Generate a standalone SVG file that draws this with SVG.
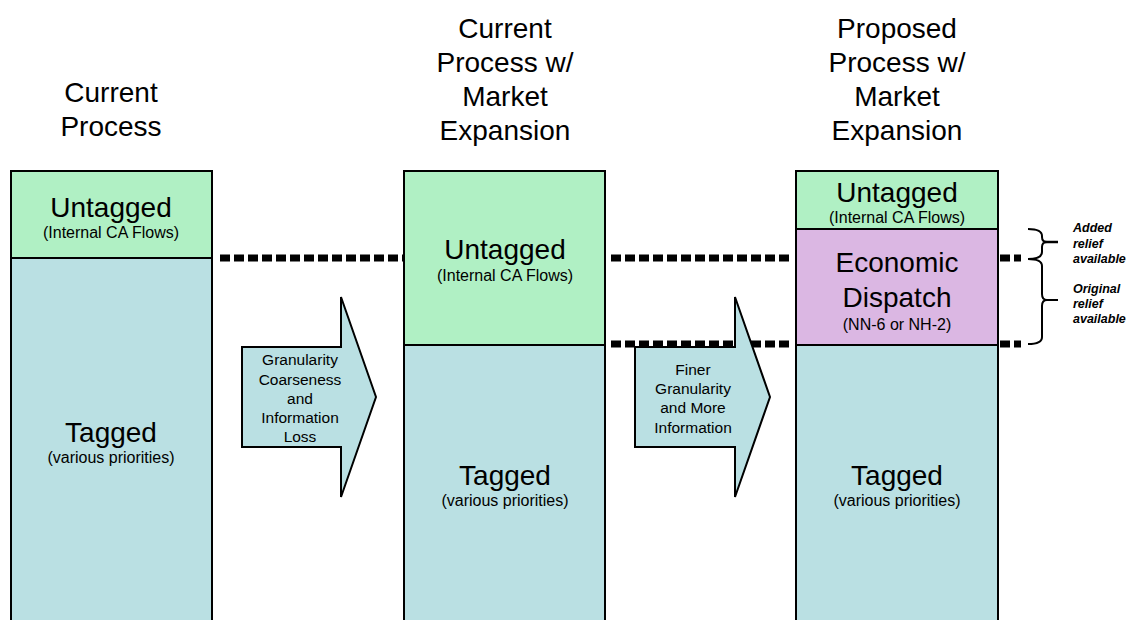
<svg xmlns="http://www.w3.org/2000/svg" width="1130" height="620" viewBox="0 0 1130 620">
<style>
  .t{font-family:"Liberation Sans",Arial,sans-serif;fill:#000;text-anchor:middle}
  .title{font-size:28px}
  .big{font-size:28px}
  .small{font-size:16px}
  .arr{font-size:15.5px}
  .note{font-family:"Liberation Sans",Arial,sans-serif;font-size:12.5px;font-weight:bold;font-style:italic;fill:#000}
  .box{stroke:#000;stroke-width:2}
  .green{fill:#B0F0C4}
  .teal{fill:#BAE0E3}
  .purple{fill:#DBB7E3}
  .dash{stroke:#000;stroke-width:7;stroke-dasharray:10 4;fill:none}
  .brace{stroke:#000;stroke-width:2;fill:none}
</style>

<g id="titles">
  <text class="t title" x="111" y="102">Current</text>
  <text class="t title" x="111" y="136">Process</text>
  <text class="t title" x="505" y="38">Current</text>
  <text class="t title" x="505" y="72">Process w/</text>
  <text class="t title" x="505" y="106">Market</text>
  <text class="t title" x="505" y="140">Expansion</text>
  <text class="t title" x="897" y="38">Proposed</text>
  <text class="t title" x="897" y="72">Process w/</text>
  <text class="t title" x="897" y="106">Market</text>
  <text class="t title" x="897" y="140">Expansion</text>
</g>

<g id="connectors">
  <line class="dash" x1="220" y1="258" x2="404" y2="258"/>
  <line class="dash" x1="611" y1="258" x2="792" y2="258"/>
  <line class="dash" x1="611" y1="344" x2="792" y2="344"/>
  <line class="dash" x1="1000" y1="258" x2="1021" y2="258"/>
  <line class="dash" x1="1000" y1="344" x2="1021" y2="344"/>
</g>

<g id="col1">
  <rect class="box green" x="11" y="171" width="201" height="87"/>
  <rect class="box teal" x="11" y="258" width="201" height="380"/>
  <text class="t big" x="111" y="217">Untagged</text>
  <text class="t small" x="111" y="238">(Internal CA Flows)</text>
  <text class="t big" x="111" y="442">Tagged</text>
  <text class="t small" x="111" y="463">(various priorities)</text>
</g>

<g id="col2">
  <rect class="box green" x="404" y="171" width="201" height="174"/>
  <rect class="box teal" x="404" y="345" width="201" height="293"/>
  <text class="t big" x="505" y="259">Untagged</text>
  <text class="t small" x="505" y="281">(Internal CA Flows)</text>
  <text class="t big" x="505" y="485">Tagged</text>
  <text class="t small" x="505" y="506">(various priorities)</text>
</g>

<g id="col3">
  <rect class="box green" x="796" y="171" width="202" height="58"/>
  <rect class="box purple" x="796" y="229" width="202" height="116"/>
  <rect class="box teal" x="796" y="345" width="202" height="293"/>
  <text class="t big" x="897" y="202">Untagged</text>
  <text class="t small" x="897" y="223">(Internal CA Flows)</text>
  <text class="t big" x="897" y="272">Economic</text>
  <text class="t big" x="897" y="307">Dispatch</text>
  <text class="t small" x="897" y="330">(NN-6 or NH-2)</text>
  <text class="t big" x="897" y="485">Tagged</text>
  <text class="t small" x="897" y="506">(various priorities)</text>
</g>

<g id="arrow1">
  <path class="box teal" d="M242,347 L341,347 L341,297 L376,397 L341,497 L341,447 L242,447 Z"/>
  <text class="t arr" x="300" y="365">Granularity</text>
  <text class="t arr" x="300" y="385">Coarseness</text>
  <text class="t arr" x="300" y="404">and</text>
  <text class="t arr" x="300" y="423">Information</text>
  <text class="t arr" x="300" y="442">Loss</text>
</g>

<g id="arrow2">
  <path class="box teal" d="M635,347 L735,347 L735,297 L770,397 L735,497 L735,447 L635,447 Z"/>
  <text class="t arr" x="693" y="375">Finer</text>
  <text class="t arr" x="693" y="394">Granularity</text>
  <text class="t arr" x="693" y="413">and More</text>
  <text class="t arr" x="693" y="433">Information</text>
</g>

<g id="brace-added">
  <path class="brace" d="M1028,229 Q1042,229 1042,236 L1042,237 Q1042,242 1047,242 Q1042,242 1042,247 L1042,252 Q1042,259 1028,259"/>
  <line x1="1045" y1="242" x2="1058" y2="242" stroke="#000" stroke-width="2.5"/>
  <text class="note" x="1073" y="232">Added</text>
  <text class="note" x="1073" y="247.5">relief</text>
  <text class="note" x="1073" y="263">available</text>
</g>

<g id="brace-original">
  <path class="brace" d="M1028,259 Q1042,259 1042,266 L1042,294 Q1042,300 1047,300 Q1042,300 1042,306 L1042,337 Q1042,344 1028,344"/>
  <line x1="1045" y1="300" x2="1058" y2="300" stroke="#000" stroke-width="2"/>
  <text class="note" x="1073" y="292.5">Original</text>
  <text class="note" x="1073" y="308">relief</text>
  <text class="note" x="1073" y="323">available</text>
</g>
</svg>
